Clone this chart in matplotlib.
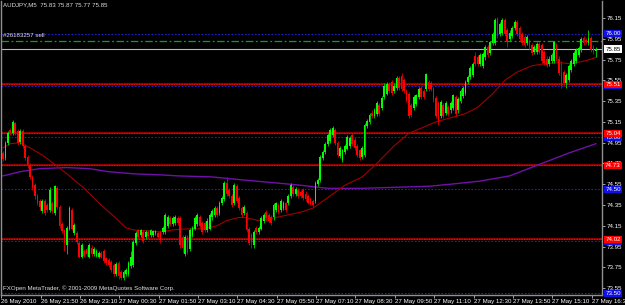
import matplotlib
matplotlib.use("Agg")
import matplotlib.pyplot as plt
import matplotlib.transforms as mtransforms
import numpy as np

# ---------------- data ----------------
symbol_title = "AUDJPY,M5  75.83 75.87 75.77 75.85"
order_label = "#26183257 sell"
copyright_text = "FXOpen MetaTrader, \u00a9 2001-2009 MetaQuotes Software Corp."

opens = [
    74.85, 74.80, 74.95, 75.07, 75.04, 75.14, 75.06, 74.96, 75.06, 74.92,
    74.81, 74.73, 74.62, 74.54, 74.44, 74.39, 74.29, 74.39, 74.35, 74.30,
    74.37, 74.27, 74.51, 74.33, 74.17, 74.11, 73.96, 74.12, 74.30, 74.08,
    74.08, 73.98, 73.85, 73.91, 73.93, 73.85, 73.94, 73.88, 73.86, 73.85,
    73.89, 73.91, 73.84, 73.82, 73.80, 73.77, 73.69, 73.79, 73.70, 73.65,
    73.69, 73.69, 73.76, 73.77, 73.98, 74.11, 74.06, 74.09, 74.04, 74.09,
    74.06, 74.06, 74.08, 74.08, 74.09, 74.09, 74.09, 74.15, 74.22, 74.17,
    74.18, 74.22, 74.22, 74.04, 73.88, 74.04, 73.93, 74.06, 74.12, 74.17,
    74.23, 74.18, 74.18, 74.11, 74.12, 74.23, 74.25, 74.32, 74.27, 74.37,
    74.41, 74.56, 74.49, 74.44, 74.37, 74.53, 74.42, 74.32, 74.27, 74.27,
    74.12, 74.06, 73.96, 74.13, 74.09, 74.12, 74.20, 74.28, 74.25, 74.23,
    74.23, 74.30, 74.35, 74.30, 74.32, 74.37, 74.37, 74.44, 74.52, 74.46,
    74.49, 74.47, 74.49, 74.46, 74.44, 74.41, 74.39, 74.39, 74.55, 74.59,
    74.80, 74.86, 74.94, 74.97, 75.02, 75.07, 74.95, 74.82, 74.78, 74.86,
    74.89, 74.92, 75.02, 74.98, 74.92, 74.88, 74.81, 74.83, 75.11, 75.15,
    75.24, 75.21, 75.23, 75.31, 75.28, 75.39, 75.42, 75.51, 75.53, 75.45,
    75.48, 75.57, 75.59, 75.55, 75.45, 75.42, 75.31, 75.28, 75.32, 75.39,
    75.48, 75.45, 75.47, 75.53, 75.52, 75.47, 75.38, 75.33, 75.21, 75.31,
    75.24, 75.29, 75.26, 75.28, 75.39, 75.26, 75.35, 75.40, 75.43, 75.53,
    75.58, 75.60, 75.78, 75.77, 75.71, 75.69, 75.77, 75.87, 75.81, 75.91,
    75.91, 76.14, 76.00, 76.01, 76.13, 76.03, 75.95, 75.98, 76.05, 76.11,
    76.05, 76.00, 75.97, 75.91, 75.93, 75.89, 75.82, 75.82, 75.90, 75.89,
    75.82, 75.76, 75.71, 75.74, 75.74, 75.89, 75.76, 75.62, 75.63, 75.52,
    75.55, 75.65, 75.71, 75.74, 75.79, 75.84, 75.96, 75.94, 75.91, 75.96,
    75.87, 75.83,
]
highs = [
    74.87, 74.97, 75.06, 75.09, 75.17, 75.15, 75.08, 75.08, 75.08, 74.94,
    74.83, 74.75, 74.64, 74.56, 74.46, 74.41, 74.41, 74.41, 74.37, 74.52,
    74.39, 74.54, 74.53, 74.35, 74.19, 74.12, 74.15, 74.34, 74.32, 74.18,
    74.10, 74.00, 73.98, 73.93, 73.95, 73.98, 73.96, 73.95, 73.93, 73.91,
    73.91, 73.93, 73.85, 73.84, 73.82, 73.79, 73.80, 73.81, 73.72, 73.72,
    73.74, 73.81, 73.91, 74.01, 74.10, 74.12, 74.12, 74.11, 74.11, 74.11,
    74.12, 74.11, 74.11, 74.10, 74.11, 74.15, 74.27, 74.25, 74.24, 74.24,
    74.25, 74.24, 74.24, 74.06, 74.06, 74.06, 74.13, 74.15, 74.24, 74.27,
    74.25, 74.20, 74.20, 74.22, 74.27, 74.31, 74.34, 74.34, 74.39, 74.44,
    74.58, 74.62, 74.51, 74.46, 74.56, 74.55, 74.44, 74.34, 74.35, 74.29,
    74.14, 74.08, 74.11, 74.15, 74.15, 74.24, 74.27, 74.30, 74.27, 74.25,
    74.37, 74.38, 74.37, 74.41, 74.39, 74.38, 74.46, 74.56, 74.54, 74.52,
    74.51, 74.49, 74.51, 74.48, 74.46, 74.43, 74.41, 74.58, 74.61, 74.83,
    74.88, 74.96, 75.04, 75.09, 75.11, 75.09, 74.97, 74.92, 74.89, 74.94,
    75.02, 75.01, 75.04, 75.00, 74.94, 74.89, 74.92, 75.14, 75.18, 75.24,
    75.26, 75.28, 75.35, 75.33, 75.40, 75.52, 75.53, 75.53, 75.55, 75.52,
    75.59, 75.59, 75.62, 75.57, 75.47, 75.44, 75.33, 75.41, 75.42, 75.49,
    75.50, 75.47, 75.62, 75.55, 75.54, 75.49, 75.40, 75.35, 75.36, 75.33,
    75.35, 75.31, 75.35, 75.42, 75.41, 75.39, 75.47, 75.50, 75.55, 75.60,
    75.69, 75.73, 75.82, 75.79, 75.81, 75.82, 75.89, 75.89, 75.93, 76.02,
    76.15, 76.16, 76.11, 76.15, 76.15, 76.05, 76.03, 76.07, 76.13, 76.13,
    76.07, 76.02, 75.99, 75.99, 75.95, 75.91, 75.89, 75.92, 75.92, 75.91,
    75.84, 75.78, 75.78, 75.81, 75.93, 75.91, 75.78, 75.74, 75.65, 75.62,
    75.71, 75.76, 75.83, 75.86, 75.88, 75.97, 75.98, 75.96, 76.03, 75.98,
    75.89, 75.87,
]
lows = [
    74.77, 74.78, 74.93, 75.02, 75.02, 75.02, 74.93, 74.94, 74.90, 74.78,
    74.71, 74.60, 74.49, 74.41, 74.35, 74.30, 74.27, 74.25, 74.28, 74.28,
    74.27, 74.25, 74.31, 74.13, 74.08, 73.91, 73.88, 74.11, 74.11, 74.06,
    73.97, 73.84, 73.84, 73.85, 73.86, 73.84, 73.86, 73.86, 73.85, 73.84,
    73.84, 73.79, 73.77, 73.75, 73.70, 73.67, 73.67, 73.64, 73.63, 73.63,
    73.67, 73.67, 73.74, 73.75, 73.96, 74.02, 74.04, 73.98, 74.02, 74.03,
    74.04, 74.04, 74.06, 74.02, 73.98, 74.07, 74.07, 74.13, 74.15, 74.15,
    74.16, 74.16, 73.94, 73.89, 73.86, 73.88, 73.91, 74.04, 74.11, 74.15,
    74.13, 74.07, 74.09, 74.09, 74.11, 74.21, 74.23, 74.23, 74.25, 74.35,
    74.39, 74.44, 74.42, 74.33, 74.35, 74.37, 74.30, 74.23, 74.25, 74.09,
    73.96, 73.94, 73.94, 74.07, 74.07, 74.11, 74.18, 74.20, 74.18, 74.16,
    74.21, 74.28, 74.26, 74.28, 74.30, 74.28, 74.35, 74.42, 74.44, 74.44,
    74.42, 74.42, 74.40, 74.39, 74.36, 74.35, 74.33, 74.37, 74.53, 74.57,
    74.78, 74.84, 74.92, 74.95, 75.00, 74.93, 74.81, 74.80, 74.76, 74.84,
    74.88, 74.90, 74.92, 74.88, 74.81, 74.78, 74.79, 74.81, 75.09, 75.13,
    75.19, 75.19, 75.21, 75.21, 75.26, 75.37, 75.41, 75.43, 75.41, 75.43,
    75.46, 75.46, 75.45, 75.43, 75.34, 75.19, 75.20, 75.26, 75.30, 75.37,
    75.37, 75.37, 75.45, 75.45, 75.45, 75.34, 75.19, 75.12, 75.19, 75.19,
    75.22, 75.21, 75.24, 75.26, 75.21, 75.24, 75.33, 75.38, 75.41, 75.51,
    75.56, 75.58, 75.69, 75.69, 75.69, 75.67, 75.75, 75.77, 75.79, 75.89,
    75.89, 75.96, 75.98, 75.99, 75.98, 75.87, 75.93, 75.96, 76.03, 75.98,
    75.93, 75.89, 75.87, 75.89, 75.85, 75.79, 75.80, 75.80, 75.80, 75.72,
    75.70, 75.68, 75.69, 75.72, 75.72, 75.74, 75.60, 75.48, 75.50, 75.48,
    75.53, 75.63, 75.69, 75.72, 75.77, 75.82, 75.89, 75.90, 75.89, 75.82,
    75.80, 75.77,
]
closes = [
    74.79, 74.95, 75.04, 75.04, 75.15, 75.04, 74.95, 75.06, 74.92, 74.80,
    74.73, 74.62, 74.52, 74.44, 74.37, 74.33, 74.39, 74.27, 74.30, 74.49,
    74.29, 74.53, 74.33, 74.15, 74.10, 73.98, 74.13, 74.32, 74.12, 74.16,
    73.99, 73.85, 73.96, 73.86, 73.88, 73.96, 73.88, 73.93, 73.91, 73.89,
    73.85, 73.81, 73.79, 73.77, 73.72, 73.69, 73.78, 73.67, 73.65, 73.70,
    73.72, 73.79, 73.85, 73.99, 74.08, 74.04, 74.11, 74.00, 74.09, 74.05,
    74.11, 74.10, 74.10, 74.04, 74.01, 74.13, 74.25, 74.23, 74.17, 74.22,
    74.23, 74.18, 73.96, 73.94, 74.04, 73.90, 74.11, 74.13, 74.22, 74.25,
    74.15, 74.09, 74.11, 74.20, 74.25, 74.29, 74.32, 74.25, 74.37, 74.42,
    74.56, 74.46, 74.44, 74.35, 74.54, 74.39, 74.32, 74.25, 74.33, 74.11,
    73.98, 73.99, 74.09, 74.09, 74.13, 74.22, 74.25, 74.22, 74.20, 74.18,
    74.35, 74.37, 74.28, 74.39, 74.37, 74.30, 74.44, 74.54, 74.46, 74.50,
    74.44, 74.44, 74.42, 74.41, 74.37, 74.37, 74.35, 74.56, 74.59, 74.81,
    74.86, 74.94, 75.02, 75.07, 75.09, 74.95, 74.83, 74.90, 74.88, 74.92,
    75.00, 74.99, 74.94, 74.90, 74.83, 74.80, 74.90, 75.12, 75.16, 75.22,
    75.21, 75.26, 75.33, 75.23, 75.38, 75.50, 75.51, 75.45, 75.43, 75.50,
    75.57, 75.48, 75.47, 75.45, 75.36, 75.21, 75.22, 75.39, 75.41, 75.47,
    75.39, 75.39, 75.61, 75.47, 75.47, 75.36, 75.21, 75.16, 75.34, 75.21,
    75.33, 75.23, 75.33, 75.41, 75.23, 75.37, 75.45, 75.48, 75.53, 75.58,
    75.67, 75.71, 75.71, 75.71, 75.79, 75.80, 75.87, 75.79, 75.92, 76.00,
    76.13, 75.98, 76.09, 76.13, 76.00, 75.92, 76.01, 76.05, 76.11, 76.00,
    75.95, 75.91, 75.89, 75.97, 75.87, 75.81, 75.87, 75.90, 75.82, 75.74,
    75.72, 75.70, 75.76, 75.79, 75.92, 75.76, 75.62, 75.50, 75.52, 75.60,
    75.69, 75.74, 75.81, 75.84, 75.86, 75.95, 75.91, 75.92, 75.96, 75.84,
    75.82, 75.85,
]

# moving averages, read at selected bars
ma_fast_bars = [0, 3, 7, 11, 16, 20, 26, 33, 39, 46, 50, 53, 59, 64, 69, 75, 82, 87,
                91, 96, 98, 104, 109, 115, 121, 126, 132, 139, 146, 152, 159, 165,
                170, 176, 182, 188, 193, 199, 204, 209, 215, 220, 226, 231, 237, 241]
ma_fast_vals = [74.90, 74.94, 74.95, 74.90, 74.83, 74.76, 74.65, 74.51, 74.37, 74.22,
                74.13, 74.11, 74.10, 74.09, 74.11, 74.12, 74.12, 74.15, 74.20, 74.23,
                74.23, 74.20, 74.22, 74.25, 74.28, 74.32, 74.42, 74.54, 74.62, 74.75,
                74.92, 75.04, 75.09, 75.15, 75.19, 75.23, 75.29, 75.42, 75.55, 75.63,
                75.69, 75.71, 75.72, 75.71, 75.74, 75.77]
ma_slow_bars = [0, 7, 15, 26, 35, 43, 53, 64, 71, 85, 98, 112, 121, 132, 146, 159,
                173, 182, 194, 206, 218, 230, 241]
ma_slow_vals = [74.63, 74.67, 74.70, 74.71, 74.70, 74.67, 74.65, 74.64, 74.63, 74.62,
                74.59, 74.56, 74.54, 74.51, 74.51, 74.52, 74.53, 74.55, 74.58, 74.63,
                74.74, 74.85, 74.94]

time_labels = ["26 May 2010", "26 May 21:50", "26 May 23:10", "27 May 00:30",
               "27 May 01:50", "27 May 03:10", "27 May 04:30", "27 May 05:50",
               "27 May 07:10", "27 May 08:30", "27 May 09:50", "27 May 11:10",
               "27 May 12:30", "27 May 13:50", "27 May 15:10", "27 May 16:30"]
bars_per_label = 16

price_ticks = [76.15, 75.95, 75.75, 75.55, 75.35, 75.15, 74.95, 74.75,
               74.55, 74.35, 74.15, 73.95, 73.75, 73.55]
round_levels = [76.00, 75.50, 75.00, 74.50, 74.00, 73.50]
sr_levels = [75.51, 75.04, 74.73, 74.02]
order_price = 75.93
bid_price = 75.85

# ---------------- style ----------------
BG = "#000000"
plt.rcParams["font.family"] = ["Liberation Sans", "DejaVu Sans"]
FS = 4.4

W, H = 625, 305
fig = plt.figure(figsize=(W / 100, H / 100), dpi=100, facecolor=BG)
ax = fig.add_axes([1 / W, 10 / H, 601 / W, 294 / H], facecolor=BG)

n = len(closes)
x = np.arange(n)
o = np.array(opens); c = np.array(closes)
hi = np.array(highs); lo = np.array(lows)
up = c >= o

# levels
for lv in round_levels:
    ax.axhline(lv, color="#2020c8", lw=0.8, ls=(0, (1.5, 1.5)), zorder=1)
for lv in sr_levels:
    ax.axhline(lv, color="#900000", lw=1.6, zorder=1.2)
    ax.axhline(lv, color="#ff1010", lw=0.6, ls=(0, (1.5, 1.5)), zorder=1.3)
ax.axhline(order_price, color="#10a010", lw=0.9, ls=(0, (6, 2, 1.5, 2)), zorder=1.4)
ax.axhline(bid_price, color="#b8b8b8", lw=0.8, zorder=1.4)

# moving averages
ax.plot(ma_slow_bars, ma_slow_vals, color="#7010a8", lw=1.0, zorder=2)
ax.plot(ma_fast_bars, ma_fast_vals, color="#a00000", lw=0.8, zorder=2)

# candles
bull, bear = "#00ff00", "#ff0000"
cols = np.where(up, bull, bear)
wick_cols = np.where(up, "#00c000", "#c00000")
ax.vlines(x, lo, hi, colors=wick_cols, lw=0.7, zorder=3)
bottoms = np.minimum(o, c)
heights = np.maximum(np.abs(c - o), 0.004)
ax.bar(x, heights, bottom=bottoms, width=0.72, color=cols, edgecolor="none", zorder=4)

ax.set_xlim(-0.8, 243.5)
ax.set_ylim(73.483, 76.314)

# axes styling
ax.spines["top"].set_visible(False)
for s in ["left", "right", "bottom"]:
    ax.spines[s].set_color("#909090")
    ax.spines[s].set_linewidth(1.0)

ax.yaxis.tick_right()
ax.set_yticks(price_ticks)
ax.set_yticklabels([f"{p:.2f}" for p in price_ticks])
ax.tick_params(axis="y", color="#c0c0c0", labelcolor="white", labelsize=FS,
               length=2.5, width=0.6, pad=1.2)

xt = [k * bars_per_label - 0.7 for k in range(len(time_labels))]
ax.set_xticks(xt)
ax.set_xticklabels(time_labels, ha="left")
ax.tick_params(axis="x", color="#c0c0c0", labelcolor="white", labelsize=FS,
               length=2, width=0.6, pad=0.8)

# texts inside chart
ax.text(0.004, 0.995, symbol_title, transform=ax.transAxes, color="#e0e0e0",
        fontsize=FS, ha="left", va="top")
ax.text(0.004, order_price + 0.03, order_label, color="#e0e0e0", fontsize=FS,
        ha="left", va="bottom",
        transform=mtransforms.blended_transform_factory(ax.transAxes, ax.transData))
ax.text(0.004, 0.012, copyright_text, transform=ax.transAxes, color="#e0e0e0",
        fontsize=FS, ha="left", va="bottom")

# right side price boxes
tr = mtransforms.blended_transform_factory(fig.transFigure, ax.transData)
boxes = [(lv, "#1010e0", "white") for lv in round_levels] + \
        [(lv, "#ff0000", "white") for lv in sr_levels] + \
        [(bid_price, "white", "black")]
for val, fc, tc in boxes:
    ax.text(613 / W, val, f"{val:.2f}", transform=tr, ha="center", va="center",
            fontsize=FS, color=tc, clip_on=False, zorder=10,
            bbox=dict(boxstyle="square,pad=0.2", fc=fc, ec="none"))

fig.savefig("out.png", dpi=100, facecolor=BG)
